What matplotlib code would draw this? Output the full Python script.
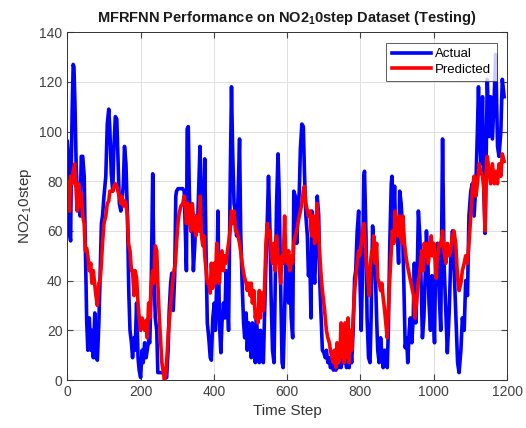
import matplotlib
matplotlib.use("Agg")
import matplotlib.pyplot as plt

plt.rcParams['font.family'] = ['Liberation Sans', 'DejaVu Sans']
plt.rcParams['mathtext.default'] = 'regular'

#-------------------------------------------------------------------------------
# données (pas de temps, valeur)
#-------------------------------------------------------------------------------
t_actual = [0, 2, 5, 7, 9, 11, 13, 16, 18, 21, 24, 27, 31, 35, 38, 42, 46, 49, 53, 56,
            60, 64, 67, 71, 75, 78, 82, 86, 89, 93, 96, 100, 105, 109, 113, 116, 120, 124,
            127, 131, 135, 138, 142, 146, 149, 153, 156, 160, 164, 168, 171,
            175, 178, 182, 185, 189, 193, 196, 200, 204, 207, 211, 215, 218, 222, 225, 229,
            233, 236, 240, 244, 247, 251, 255, 260, 265, 267, 271, 275, 278, 282, 285, 289,
            293, 296, 298, 302, 305, 310, 315, 319, 322, 325, 327, 330,
            333, 337, 341, 344, 348, 351, 355, 359, 362, 366, 370, 373, 375, 379, 382, 386,
            390, 393, 397, 401, 404, 408, 411, 415, 419, 422, 426, 430, 433, 437, 440, 444,
            448, 451, 455, 459, 462, 466, 470, 473, 477, 481, 484, 488, 491, 495, 499,
            502, 505, 509, 513, 516, 520, 524, 527, 531, 535, 538, 542, 546, 549, 553, 556,
            560, 564, 567, 571, 575, 578, 582, 586, 589, 593, 596, 600, 604, 607, 611, 615,
            618, 622, 626, 629, 633, 636, 640, 644, 647, 651, 655, 658, 662, 665,
            667, 671, 675, 678, 682, 686, 689, 693, 696, 700, 704, 707, 711, 715, 718, 722,
            726, 729, 733, 736, 740, 744, 747, 751, 755, 758, 762, 766, 769, 773, 776, 780,
            784, 787, 791, 795, 798, 802, 806, 809, 811, 815, 818, 822, 826, 829, 833,
            840, 844, 847, 851, 855, 858, 862, 866, 869, 873, 876, 880, 884, 886, 889, 893,
            896, 900, 904, 907, 911, 915, 918, 922, 926, 929, 933, 936, 940, 944, 947, 951,
            955, 958, 962, 966, 969, 973, 977, 980, 984, 987, 991, 995, 998, 1002,
            1005, 1010, 1015, 1019, 1024, 1028, 1033, 1037, 1042, 1046, 1051, 1055, 1060,
            1065, 1069, 1074, 1078, 1083, 1087, 1092, 1096, 1101, 1105, 1110, 1115, 1119,
            1122, 1125, 1129, 1133, 1137, 1140, 1144, 1146, 1151, 1155, 1160, 1165, 1169,
            1174, 1178, 1183, 1187, 1192]
actual = [96, 92, 80, 58, 56, 87, 107, 127, 126, 110, 87, 76, 71, 66, 90, 90, 82, 55, 23, 12,
          25, 12, 20, 9, 27, 9, 8, 23, 39, 63, 66, 74, 82, 103, 109, 101, 83, 76,
          93, 106, 105, 90, 71, 68, 71, 79, 94, 87, 66, 34, 20,
          15, 9, 17, 12, 31, 9, 4, 1, 12, 7, 15, 9, 12, 16, 15, 39,
          83, 47, 25, 20, 3, 3, 3, 3, 3, 1, 1, 12, 28, 39, 43, 28,
          42, 74, 76, 77, 77, 77, 77, 76, 60, 44, 101, 102,
          75, 60, 63, 44, 55, 66, 60, 80, 94, 66, 55, 74, 89, 47, 23, 17,
          9, 8, 25, 31, 20, 39, 68, 23, 11, 23, 31, 25, 44, 31, 20, 74,
          118, 93, 71, 67, 58, 74, 97, 60, 39, 23, 17, 27, 12, 23, 17,
          9, 23, 13, 7, 25, 15, 7, 20, 9, 7, 25, 47, 66, 82, 60, 34,
          12, 7, 34, 71, 91, 76, 39, 7, 5, 27, 47, 39, 31, 47, 25, 17,
          76, 74, 55, 66, 76, 93, 103, 102, 84, 66, 58, 42, 47, 25,
          68, 47, 39, 50, 74, 66, 39, 23, 12, 11, 9, 12, 7, 9, 5, 7,
          4, 5, 4, 7, 5, 11, 5, 9, 7, 9, 5, 9, 5, 12, 7, 20,
          41, 44, 60, 68, 44, 20, 47, 82, 84, 58, 25, 9, 7, 25, 62,
          47, 25, 12, 7, 17, 11, 5, 12, 9, 5, 20, 55, 79, 82, 60, 78,
          58, 60, 47, 76, 71, 60, 41, 13, 17, 7, 20, 25, 15, 25, 47, 23,
          44, 68, 58, 36, 17, 25, 44, 60, 47, 31, 20, 42, 31, 15,
          47, 55, 34, 20, 97, 47, 27, 11, 27, 47, 60, 47, 27,
          7, 3, 12, 25, 20, 40, 34, 66, 76, 79, 66, 79, 100,
          118, 100, 87, 114, 74, 59, 100, 121, 98, 114, 97, 114, 131,
          94, 90, 100, 121, 114]

t_pred = [0, 2, 6, 9, 13, 16, 20, 24, 27, 31, 35, 38, 42, 46, 49, 53, 56, 60, 64, 67,
          71, 75, 78, 82, 86, 89, 93, 96, 100, 105, 109, 113, 116, 120, 124, 127, 131,
          135, 138, 142, 146, 149, 153, 156, 160, 164, 167, 171,
          175, 178, 182, 185, 189, 193, 196, 200, 204, 207, 211, 215, 218, 222, 225, 229,
          233, 236, 240, 244, 247, 251, 255, 258, 262, 265, 269, 273, 276, 280, 284, 287,
          291, 295, 298, 302, 305, 310, 315, 319, 322, 325, 329,
          333, 337, 341, 344, 348, 351, 355, 359, 362, 366, 370, 373, 375, 379, 382, 386,
          390, 393, 397, 401, 404, 408, 411, 415, 419, 422, 426, 430, 433, 437, 440, 444,
          448, 451, 455, 459, 462, 466, 470, 473, 477, 481, 484, 488, 491, 495, 499,
          502, 505, 509, 513, 516, 520, 524, 527, 531, 535, 538, 542, 546, 549, 553, 556,
          560, 564, 567, 571, 575, 578, 582, 586, 589, 593, 596, 600, 604, 607, 611, 615,
          618, 622, 626, 629, 633, 636, 640, 644, 647, 651, 655, 658, 662, 665,
          667, 671, 675, 678, 682, 686, 689, 693, 696, 700, 704, 707, 711, 715, 718, 722,
          726, 729, 733, 736, 740, 744, 747, 751, 755, 758, 762, 766, 769, 773, 776, 780,
          784, 787, 791, 795, 798, 802, 806, 809, 813, 816, 820, 824, 827, 831, 834,
          836, 840, 844, 847, 851, 855, 858, 862, 866, 869, 873, 876, 880, 884, 887, 891,
          895, 898, 902, 906, 909, 913, 916, 920, 924, 927, 931, 935, 938, 942, 945, 949,
          953, 957, 960, 964, 967, 971, 974, 978, 982, 985, 989, 993, 996, 1000, 1004, 1007,
          1010, 1015, 1019, 1024, 1028, 1033, 1037, 1042, 1046, 1051, 1055, 1060, 1065,
          1069, 1074, 1078, 1083, 1087, 1092, 1096, 1101, 1105, 1110, 1115, 1119, 1124,
          1128, 1133, 1137, 1140, 1144, 1146, 1151, 1155, 1160, 1165, 1169, 1174, 1178,
          1183, 1187, 1192]
predicted = [71, 80, 68, 82, 79, 84, 87, 76, 68, 79, 70, 75, 66, 63, 52, 53, 50, 44, 47, 39,
             44, 38, 34, 30, 39, 39, 47, 55, 63, 66, 71, 72, 76, 76, 76, 78, 79,
             78, 76, 74, 71, 74, 70, 72, 71, 66, 55, 52,
             44, 44, 34, 44, 41, 31, 25, 20, 25, 23, 20, 24, 17, 31, 25, 39,
             44, 39, 54, 52, 39, 25, 15, 7, 3, 0, 3, 12, 20, 27, 34, 39,
             44, 47, 55, 63, 67, 70, 71, 74, 71, 63, 71,
             66, 60, 71, 66, 60, 58, 66, 60, 74, 58, 54, 58, 50, 44, 39, 39,
             35, 47, 37, 47, 39, 55, 47, 39, 50, 52, 44, 50, 47, 52, 55, 60,
             68, 63, 68, 60, 60, 58, 55, 52, 47, 43, 41, 39, 36, 39, 34,
             39, 31, 36, 25, 28, 23, 36, 25, 35, 28, 36, 55, 63, 58, 60, 52,
             47, 55, 44, 58, 50, 47, 39, 50, 47, 66, 50, 47, 52, 44, 50, 47,
             55, 58, 60, 63, 66, 68, 71, 76, 78, 71, 68, 66, 68, 60,
             58, 66, 55, 63, 71, 58, 50, 41, 36, 31, 25, 20, 17, 15, 12, 9,
             7, 12, 5, 15, 7, 9, 23, 12, 7, 23, 9, 25, 7, 20, 12, 25,
             36, 41, 47, 52, 50, 55, 60, 63, 55, 47, 41, 34, 47, 52, 50,
             58, 47, 55, 41, 39, 36, 39, 33, 28, 23, 17, 28, 41, 52, 60, 55,
             68, 60, 58, 66, 58, 55, 66, 55, 50, 47, 44, 41, 39, 36, 34, 25,
             31, 39, 41, 47, 52, 44, 55, 50, 55, 47, 52, 58, 50, 55, 47, 41,
             49, 55, 54, 60, 52, 47, 55, 50, 52, 58, 60, 55, 41,
             36, 39, 44, 47, 50, 47, 55, 66, 76, 82, 74, 79, 87,
             84, 82, 76, 60, 87, 90, 84, 79, 87, 79, 84, 79, 87,
             82, 91, 88]

#-------------------------------------------------------------------------------
# tracé
#-------------------------------------------------------------------------------
fig = plt.figure(figsize=(5.26, 4.28), dpi=100)
ax = fig.add_axes([0.128, 0.112, 0.836, 0.813])

ax.plot(t_actual, actual, color=(0, 0, 1), lw=2.6, label='Actual')
ax.plot(t_pred, predicted, color=(1, 0, 0), lw=2.6, label='Predicted')

ax.set_xlim(0, 1200)
ax.set_ylim(0, 140)
ax.set_xticks(range(0, 1201, 200))
ax.set_yticks(range(0, 141, 20))
ax.grid(True, color='0.88', lw=0.7)
ax.set_axisbelow(True)

ax.tick_params(direction='in', top=True, right=True, length=4,
               labelsize=10, colors='0.25')
for s in ax.spines.values():
    s.set_color('0.2')
    s.set_linewidth(0.7)

ax.set_title('MFRFNN Performance on NO2$_1$0step Dataset (Testing)',
             fontsize=10.5, fontweight='bold', color='0.1', pad=7)
ax.set_xlabel('Time Step', fontsize=11, color='0.2')
ax.set_ylabel('NO2$_1$0step', fontsize=11, color='0.2')

leg = ax.legend(loc='upper right', fontsize=9.5, frameon=True, fancybox=False,
                edgecolor='0.2', handlelength=3.0, borderpad=0.4,
                labelspacing=0.25, handletextpad=0.3, borderaxespad=0.8)
leg.get_frame().set_linewidth(0.7)

fig.savefig('out.png', dpi=100)
